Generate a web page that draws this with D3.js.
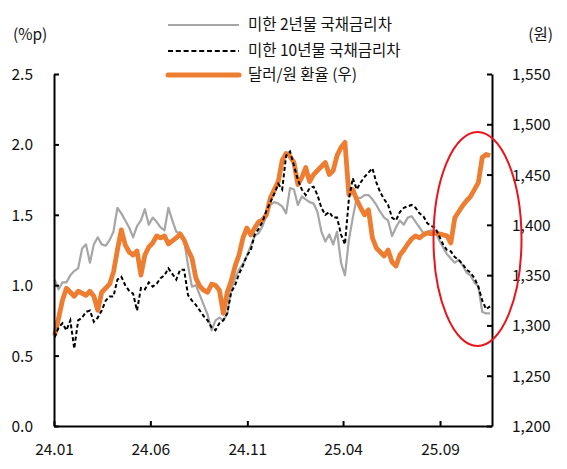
<!DOCTYPE html>
<html>
<head>
<meta charset="utf-8">
<script src="https://cdn.jsdelivr.net/npm/d3@7"></script>
<style>
  html, body { margin: 0; padding: 0; background: #fff; }
  svg text { font-family: "Noto Sans CJK KR", "Noto Sans", sans-serif; fill: #111; }
</style>
</head>
<body>
<svg id="chart" width="567" height="469"></svg>
<script>
// ---- data ----
const startDate = "2024-01-02";
const endDate = "2025-11-19";
const xTickDates = ["2024-01-01", "2024-06-01", "2024-11-01", "2025-04-01", "2025-09-01"];
const xTickLabels = ["24.01", "24.06", "24.11", "25.04", "25.09"];
const leftTicks = [0, 0.5, 1.0, 1.5, 2.0, 2.5];
const rightTicks = [1200, 1250, 1300, 1350, 1400, 1450, 1500, 1550];
const seriesNames = ["미한 2년물 국채금리차", "미한 10년물 국채금리차", "달러/원 환율 (우)"];

// 미한 2년물 국채금리차 (%p)
const spread2y = [
  1.04,0.97,1.02,1.02,1.07,1.10,1.12,1.26,1.29,1.16,
  1.29,1.34,1.29,1.28,1.32,1.38,1.55,1.51,1.46,1.41,
  1.34,1.42,1.46,1.54,1.43,1.48,1.45,1.41,1.39,1.55,
  1.46,1.38,1.37,1.32,1.14,0.99,1.00,0.93,0.86,0.79,
  0.68,0.75,0.77,0.75,0.80,0.97,1.05,1.11,1.15,1.21,
  1.28,1.35,1.37,1.42,1.50,1.57,1.59,1.58,1.56,1.51,
  1.69,1.68,1.57,1.63,1.61,1.59,1.58,1.52,1.38,1.31,
  1.36,1.29,1.38,1.16,1.07,1.32,1.48,1.62,1.62,1.64,
  1.64,1.61,1.57,1.52,1.48,1.46,1.35,1.41,1.46,1.43,
  1.48,1.49,1.45,1.41,1.37,1.38,1.39,1.38,1.32,1.27,
  1.22,1.19,1.16,1.18,1.14,1.09,1.07,1.02,0.99,0.81,
  0.80,0.80
];
// 미한 10년물 국채금리차 (%p)
const spread10y = [
  0.63,0.70,0.73,0.68,0.75,0.55,0.75,0.77,0.81,0.82,
  0.74,0.77,0.82,0.89,0.92,0.92,1.04,1.06,1.00,0.96,
  0.94,0.82,0.98,0.97,1.02,0.99,1.01,1.05,1.07,1.12,
  1.08,1.04,1.11,1.11,0.93,0.89,0.86,0.82,0.78,0.75,
  0.70,0.68,0.73,0.75,0.80,0.95,1.00,1.08,1.14,1.21,
  1.25,1.36,1.40,1.45,1.53,1.59,1.65,1.72,1.68,1.92,
  1.95,1.85,1.75,1.68,1.64,1.69,1.70,1.64,1.55,1.50,
  1.52,1.48,1.48,1.36,1.29,1.61,1.76,1.68,1.73,1.77,
  1.80,1.83,1.73,1.66,1.61,1.57,1.48,1.46,1.52,1.55,
  1.56,1.57,1.55,1.51,1.49,1.44,1.42,1.41,1.35,1.29,
  1.25,1.24,1.20,1.18,1.15,1.11,1.09,1.05,0.99,0.89,
  0.83,0.85
];
// 달러/원 환율 (원, right axis)
const usdkrw = [
  1290,1307,1325,1337,1333,1329,1334,1332,1330,1334,
  1329,1315,1333,1337,1341,1353,1375,1395,1380,1373,
  1370,1374,1350,1370,1378,1382,1389,1387,1389,1381,
  1384,1387,1391,1385,1375,1367,1347,1339,1335,1333,
  1341,1340,1335,1312,1333,1344,1359,1370,1387,1397,
  1390,1397,1403,1405,1410,1427,1435,1443,1464,1471,
  1468,1462,1440,1447,1457,1443,1450,1454,1458,1462,
  1450,1454,1469,1477,1482,1430,1435,1425,1417,1410,
  1415,1387,1377,1373,1369,1375,1363,1359,1370,1375,
  1381,1386,1389,1387,1390,1392,1391,1392,1391,1390,
  1389,1382,1407,1413,1419,1424,1428,1435,1442,1467,
  1470,1469
];

// ---- build ----
const parse = d3.timeParse("%Y-%m-%d");
const t0 = parse(startDate), t1 = parse(endDate);
const n = usdkrw.length;
const dates = d3.range(n).map(i => new Date(t0.getTime() + (t1 - t0) * i / (n - 1)));

const svg = d3.select("#chart");
const L = 54, R = 492, T = 74, B = 426;

const x = d3.scaleTime().domain([parse("2024-01-01"), parse("2025-11-22")]).range([L, R]);
const yL = d3.scaleLinear().domain([0, 2.5]).range([B, T]);
const yR = d3.scaleLinear().domain([1200, 1550]).range([B, T]);

const FS = 15.5;

// series
const lineL = d3.line().x((d, i) => x(dates[i])).y(d => yL(d));
const lineR = d3.line().x((d, i) => x(dates[i])).y(d => yR(d));

svg.append("path").datum(spread2y).attr("d", lineL)
  .attr("fill", "none").attr("stroke", "#a6a6a6").attr("stroke-width", 2.2)
  .attr("stroke-linejoin", "round");
svg.append("path").datum(usdkrw).attr("d", lineR)
  .attr("fill", "none").attr("stroke", "#ed7d31").attr("stroke-width", 4.8)
  .attr("stroke-linejoin", "round");
svg.append("path").datum(spread10y).attr("d", lineL)
  .attr("fill", "none").attr("stroke", "#000").attr("stroke-width", 2)
  .attr("stroke-dasharray", "4,2.5");

// axes
const axL = svg.append("g").attr("transform", `translate(${L},0)`)
  .call(d3.axisLeft(yL).tickValues(leftTicks).tickSize(-5).tickSizeOuter(0)
    .tickFormat(d3.format(".1f")));
axL.selectAll("text").attr("x", -21).attr("dy", "0.35em");

const axR = svg.append("g").attr("transform", `translate(${R},0)`)
  .call(d3.axisRight(yR).tickValues(rightTicks).tickSize(-5).tickSizeOuter(0)
    .tickFormat(d3.format(",")));
axR.selectAll("text").attr("x", 20).attr("dy", "0.35em");

const axB = svg.append("g").attr("transform", `translate(0,${B})`)
  .call(d3.axisBottom(x).tickValues(xTickDates.map(parse)).tickSize(-5).tickSizeOuter(0)
    .tickFormat((d, i) => xTickLabels[i]));
axB.selectAll("text").attr("y", 24).attr("dy", "0.35em");

[axL, axR, axB].forEach(g => {
  g.select(".domain").attr("stroke", "#000").attr("stroke-width", 2);
  g.selectAll(".tick line").attr("stroke", "#000").attr("stroke-width", 2);
  g.selectAll("text").attr("font-size", FS).attr("fill", "#111")
    .attr("font-family", '"Noto Sans CJK KR", "Noto Sans", sans-serif');
});

// unit labels
svg.append("text").attr("x", 13).attr("y", 35).attr("dy", "0.35em")
  .attr("font-size", FS).text("(%p)");
svg.append("text").attr("x", 553).attr("y", 35).attr("dy", "0.35em")
  .attr("text-anchor", "end").attr("font-size", FS).text("(원)");

// legend
const legendY = [25, 51, 75];
const legendStyle = [
  { stroke: "#a6a6a6", w: 2.2, dash: null },
  { stroke: "#000", w: 2, dash: "5,2.8" },
  { stroke: "#ed7d31", w: 5, dash: null }
];
seriesNames.forEach((name, i) => {
  const s = legendStyle[i];
  svg.append("line").attr("x1", 168).attr("x2", 239)
    .attr("y1", legendY[i]).attr("y2", legendY[i])
    .attr("stroke", s.stroke).attr("stroke-width", s.w)
    .attr("stroke-linecap", i === 2 ? "round" : "butt")
    .attr("stroke-dasharray", s.dash);
  svg.append("text").attr("x", 248).attr("y", legendY[i]).attr("dy", "0.35em")
    .attr("font-size", FS).text(name);
});

// highlight ellipse
svg.append("ellipse").attr("cx", 477.5).attr("cy", 239).attr("rx", 44).attr("ry", 107)
  .attr("fill", "none").attr("stroke", "#e8141b").attr("stroke-width", 2);
</script>
</body>
</html>
